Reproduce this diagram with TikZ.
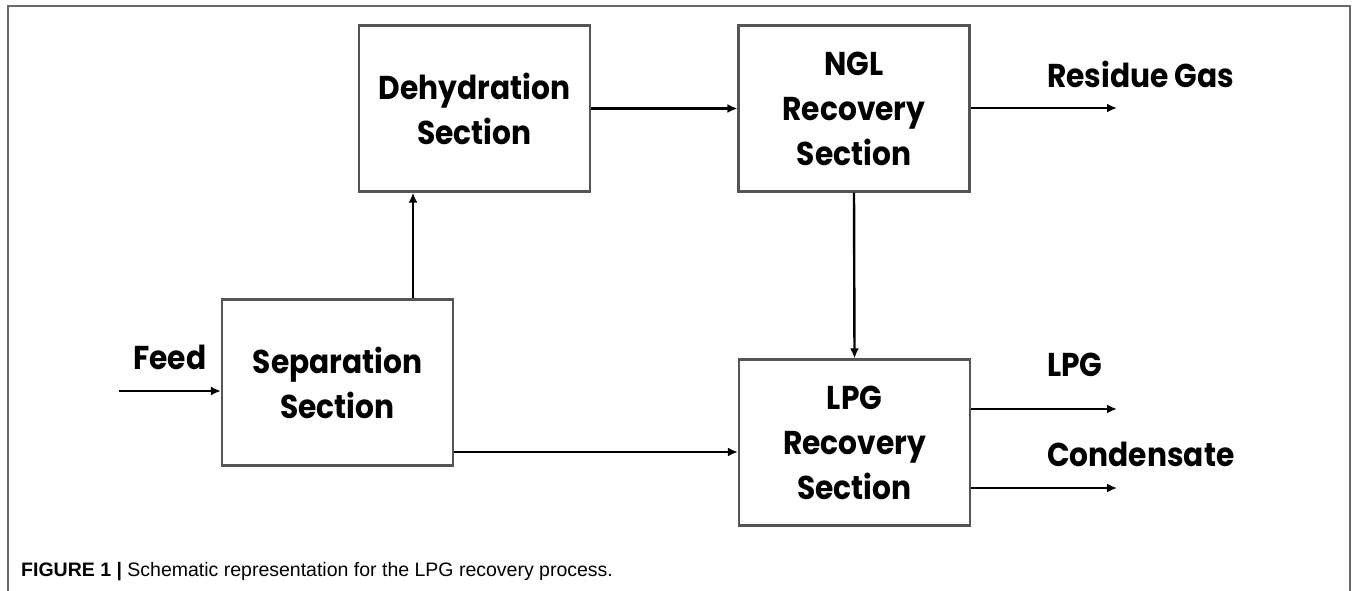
\documentclass[tikz,border=0pt]{standalone}
\usepackage{fontspec}
\usepackage{tikz}
\usetikzlibrary{arrows.meta}
\usetikzlibrary{positioning}
\newfontfamily\boxfont[FakeStretch=0.9]{Poppins}
\newfontfamily\capfont{Liberation Sans}
\definecolor{framegray}{HTML}{6a6a6a}
\definecolor{boxgray}{HTML}{555555}

\begin{document}
\begin{tikzpicture}[
	x=1pt, y=-1pt,
	block/.style={draw=boxgray, line width=2.2pt, minimum width=231pt, minimum height=166pt,
		align=center, font=\boxfont\bfseries\fontsize{33}{45}\selectfont},
	stream/.style={font=\boxfont\bfseries\fontsize{33}{45}\selectfont, anchor=west, inner sep=0pt},
	flow/.style={draw=black, line width=2.4pt, -{Latex[length=10pt, width=9pt]}}
	]
	
	\useasboundingbox (0,0) rectangle (1356,591);
	\draw[color=framegray, line width=1.6pt]
		(8,591) -- (8,6) -- (1350,6) -- (1350,591);
	
	\node[block] (sep) at (337.5,382.5) {Separation\\Section};
	\node[block] (dehy) at (474.5,108.5) {Dehydration\\Section};
	\node[block] (ngl) at (854,108.5) {NGL\\Recovery\\Section};
	\node[block] (lpg) at (854.5,442.5) {LPG\\Recovery\\Section};
	
	\coordinate (feedin) at (119,391);
	\coordinate (gasout) at (1117,108);
	\coordinate (lpgout) at (1117,409);
	\coordinate (condout) at (1117,488);
	
	\node[stream] (feedlbl) at (133,357) {Feed};
	\node[stream] (gaslbl) at (1047,74) {Residue Gas};
	\node[stream] (lpglbl) at (1047,365) {LPG};
	\node[stream] (condlbl) at (1047,454) {Condensate};
	
	\draw[flow] (feedin) -- (feedin -| sep.west);
	\draw[flow] ([xshift=75.5pt]sep.north) -- ([xshift=75.5pt]sep.north |- dehy.south);
	\draw[flow] ([yshift=-69.5pt]sep.east) -- ([yshift=-69.5pt]sep.east -| lpg.west);
	\draw[flow] (dehy.east) -- (ngl.west);
	\draw[flow] (ngl.south) -- (lpg.north);
	\draw[flow] (gasout -| ngl.east) -- (gasout);
	\draw[flow] (lpgout -| lpg.east) -- (lpgout);
	\draw[flow] (condout -| lpg.east) -- (condout);
	
	\node[anchor=base west, inner sep=0pt, font=\capfont\fontsize{19.5}{22}\selectfont] (caption) at (21,576)
		{{\bfseries FIGURE 1 |} Schematic representation for the LPG recovery process.};
\end{tikzpicture}
\end{document}
